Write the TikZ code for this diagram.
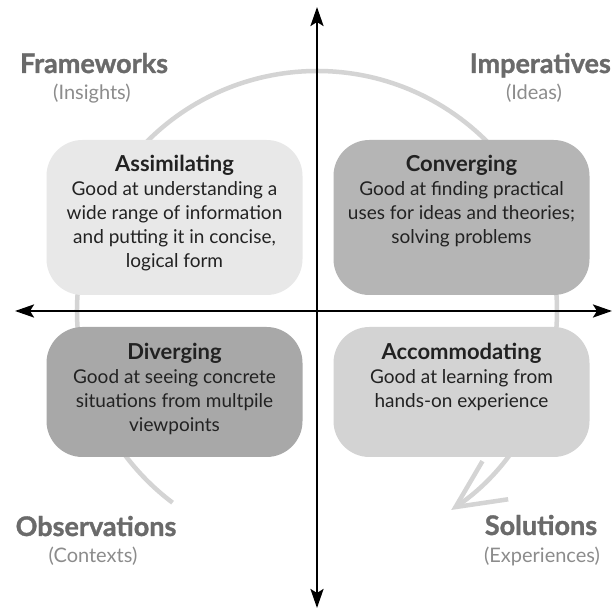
\documentclass[tikz,border=0pt]{standalone}
\usepackage{fontspec}
\setmainfont{Lato}
\newfontfamily\heavyfont{Lato}[BoldFeatures={FakeBold=1.2}]
\usetikzlibrary{arrows.meta}
\definecolor{headc}{HTML}{6A6A6A}
\definecolor{subc}{HTML}{8C8C8C}
\definecolor{bodyc}{HTML}{222222}
\definecolor{arcc}{HTML}{D4D4D4}
\definecolor{fillA}{HTML}{E8E8E8}
\definecolor{fillB}{HTML}{B5B5B5}
\definecolor{fillC}{HTML}{A8A8A8}
\definecolor{fillD}{HTML}{D3D3D3}
\begin{document}
\begin{tikzpicture}[x=1pt,y=1pt,
  quad/.style={rounded corners=36pt, inner sep=0pt, minimum width=256pt},
  boxtext/.style={align=center, font=\fontsize{19}{24}\selectfont, text=bodyc, inner sep=0pt, anchor=north},
  head/.style={font=\heavyfont\bfseries\fontsize{27}{30}\selectfont, text=headc, inner sep=0pt, anchor=base},
  sub/.style={font=\fontsize{20}{24}\selectfont, text=subc, inner sep=0pt, anchor=base},
  axis/.style={line width=2.6pt, {Stealth[length=19pt,width=13pt,inset=4pt]}-{Stealth[length=19pt,width=13pt,inset=4pt]}},
  cyc/.style={line width=4.5pt, draw=arcc, -{Straight Barb[length=48pt,width=46pt]}}
]
\useasboundingbox (0,0) rectangle (612,614);
\fill[white] (0,0) rectangle (612,614);

% learning cycle
\coordinate (o) at (317,303);
\draw[cyc] ([shift={(233:240)}]o) arc[start angle=233, end angle=-56, radius=240];

% quadrant boxes
\node[quad, fill=fillA, minimum height=155pt] (assim) at (174.5,396.5) {};
\node[quad, fill=fillB, minimum height=155pt] (conv) at (461.5,396.5) {};
\node[quad, fill=fillC, minimum height=130pt] (div) at (174.5,222) {};
\node[quad, fill=fillD, minimum height=130pt] (acc) at (461.5,222) {};

\node[boxtext] (assimtxt) at ([yshift=-15pt]assim.north) {{\bfseries\fontsize{22}{24}\selectfont Assimilating}\\Good at understanding a\\wide range of information\\and putting it in concise,\\logical form};
\node[boxtext] (convtxt) at ([yshift=-15pt]conv.north) {{\bfseries\fontsize{22}{24}\selectfont Converging}\\Good at finding practical\\uses for ideas and theories;\\solving problems};
\node[boxtext] (divtxt) at ([yshift=-16pt]div.north) {{\bfseries\fontsize{22}{24}\selectfont Diverging}\\Good at seeing concrete\\situations from multpile\\viewpoints};
\node[boxtext] (acctxt) at ([yshift=-16pt]acc.north) {{\bfseries\fontsize{22}{24}\selectfont Accommodating}\\Good at learning from\\hands-on experience};

% axes
\coordinate (ytop) at (317,607);
\coordinate (ybot) at (317,6);
\coordinate (xl) at (15,303);
\coordinate (xr) at (612,303);
\draw[axis] (ybot) -- (ytop);
\draw[axis] (xl) -- (xr);

% corner labels
\node[head] (fw) at (94,541) {Frameworks};
\node[sub] (fwsub) at (92,514) {(Insights)};
\node[head, anchor=base east] (imp) at (611,541) {Imperatives};
\node[sub] (impsub) at (534,514) {(Ideas)};
\node[head] (obs) at (96,78) {Observations};
\node[sub] (obssub) at (93,52) {(Contexts)};
\node[head] (sol) at (541,79) {Solutions};
\node[sub] (solsub) at (542,51) {(Experiences)};
\end{tikzpicture}
\end{document}
